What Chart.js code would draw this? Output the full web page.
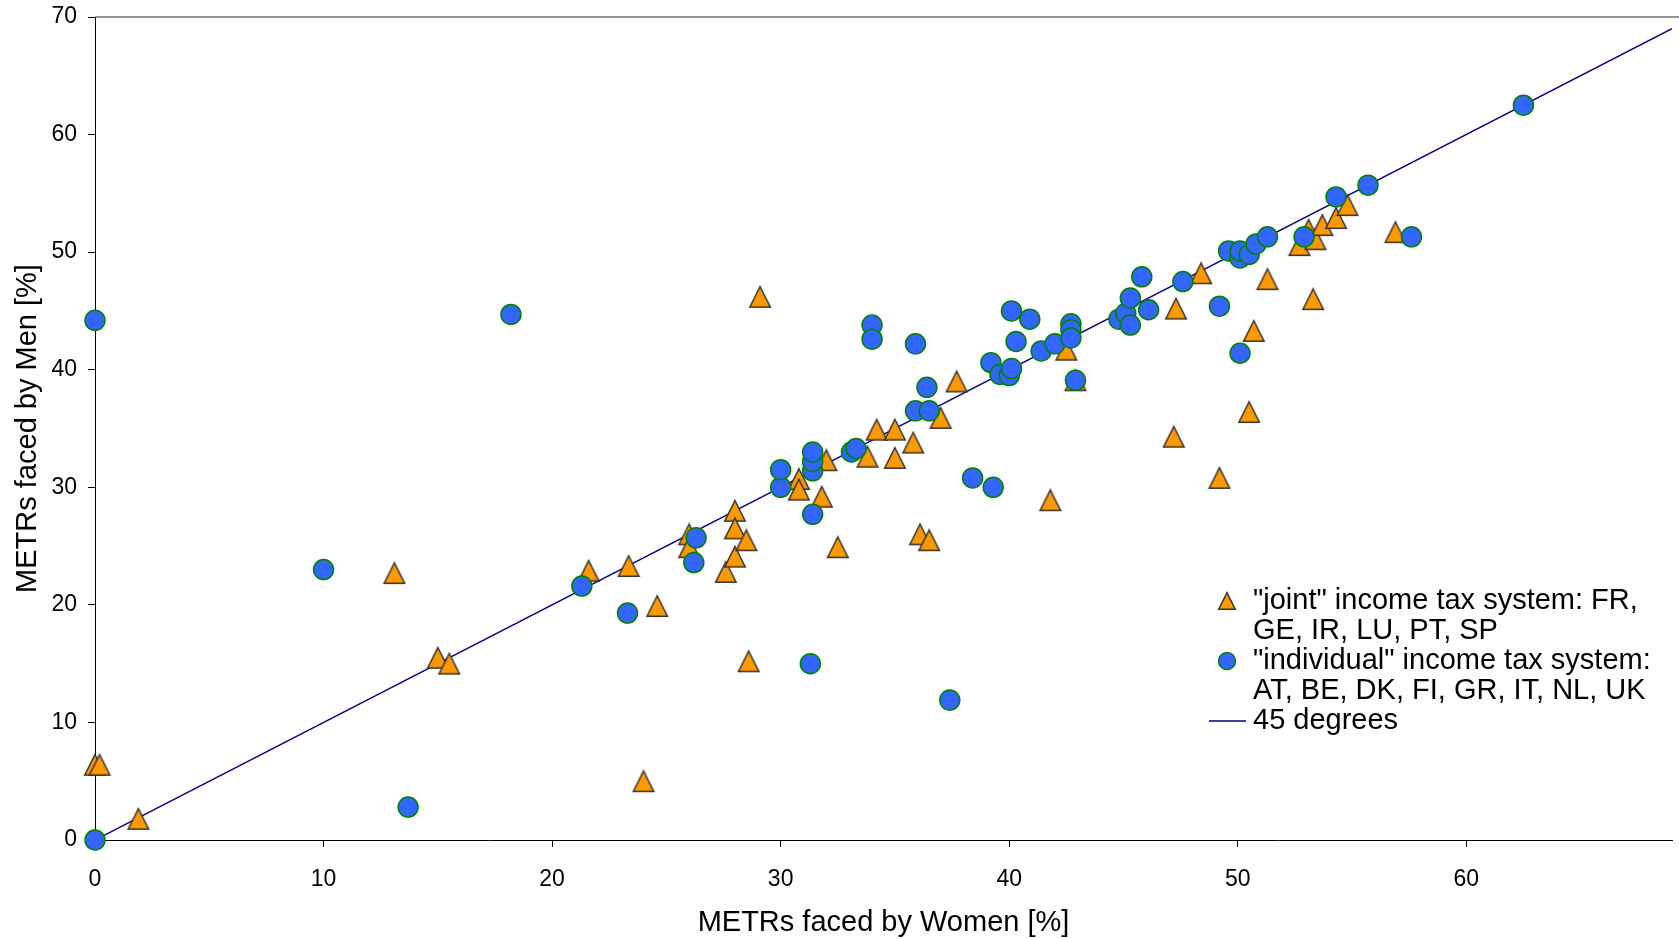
<!DOCTYPE html>
<html>
<head>
<meta charset="utf-8">
<title>METRs faced by women and men</title>
<script src="https://cdn.jsdelivr.net/npm/chart.js@4.4.1/dist/chart.umd.min.js"></script>
<style>
  html, body { margin: 0; padding: 0; background: #fff; }
</style>
</head>
<body>
<canvas id="chart" width="1679" height="939"></canvas>
<script>
// "joint" income tax system countries: METR for women (x) and men (y), %
const jointX = [0.0, 0.2, 1.9, 13.1, 15.0, 15.5, 21.6, 23.35, 24.0, 24.6,
  26.0, 26.0, 27.6, 28.0, 28.0, 28.0, 28.5, 28.6, 29.1, 30.8,
  30.8, 31.8, 32.0, 32.5, 33.8, 34.2, 35.0, 35.0, 35.8, 36.1,
  36.5, 37.0, 37.7, 41.8, 42.5, 42.9, 47.2, 47.3, 48.4, 49.2,
  50.5, 50.7, 51.3, 52.7, 53.1, 53.4, 53.7, 54.3, 54.8, 53.3, 56.9];
const jointY = [6.4, 6.4, 1.8, 22.7, 15.5, 15.0, 22.9, 23.3, 5.0, 19.9,
  26.0, 24.9, 22.8, 28.0, 26.5, 24.1, 25.5, 15.2, 46.2, 30.7,
  29.8, 29.2, 32.3, 24.9, 32.6, 34.9, 34.9, 32.5, 33.8, 26.0,
  25.5, 35.9, 39.0, 28.9, 41.7, 39.1, 34.3, 45.2, 48.2, 30.8,
  36.4, 43.3, 47.7, 50.6, 51.9, 51.1, 52.3, 52.9, 54.0, 46.0, 51.7];

// "individual" income tax system countries
const indivX = [0, 0, 10.0, 13.7, 18.2, 21.3, 23.3, 26.2, 26.3, 30.0,
  30.0, 31.3, 31.4, 31.4, 31.4, 31.4, 33.1, 33.3, 34.0, 34.0,
  35.9, 35.9, 36.4, 36.5, 37.4, 38.4, 39.3, 39.2, 39.6, 40.0,
  40.1, 40.1, 40.3, 40.9, 41.4, 42.0, 42.7, 42.7, 42.7, 42.9,
  44.8, 45.1, 45.3, 45.3, 45.8, 46.1, 47.6, 49.2, 50.1, 49.6,
  50.1, 50.1, 50.5, 50.8, 51.3, 52.9, 54.3, 55.7, 57.6, 62.5];
const indivY = [0, 44.2, 23.0, 2.8, 44.7, 21.6, 19.3, 23.6, 25.7, 30.0,
  31.5, 15.0, 27.7, 31.4, 32.2, 33.0, 33.0, 33.3, 43.8, 42.6,
  42.2, 36.5, 38.5, 36.5, 11.9, 30.8, 30.0, 40.6, 39.6, 39.5,
  40.1, 45.0, 42.4, 44.3, 41.6, 42.2, 43.9, 43.4, 42.7, 39.1,
  44.3, 44.8, 43.8, 46.1, 47.9, 45.1, 47.5, 45.4, 41.4, 50.1,
  49.5, 50.1, 49.8, 50.7, 51.3, 51.3, 54.7, 55.7, 51.3, 62.5];

// 45 degree reference line
const diagX = [0, 69];

const xMax = 69;
const yMax = 70;
const tickStep = 10;

const legendText = [
  ['"joint" income tax system: FR,', 'GE, IR, LU, PT, SP'],
  ['"individual" income tax system:', 'AT, BE, DK, FI, GR, IT, NL, UK'],
  ['45 degrees']
];

const FONT = '"Liberation Sans", Arial, sans-serif';
Chart.defaults.font.family = FONT;
Chart.defaults.color = '#000';

function makeTriangle(size, lw) {
  const c = document.createElement('canvas');
  c.width = size + 2;
  c.height = size + 2;
  const g = c.getContext('2d');
  const p = 1 + lw / 2;
  g.beginPath();
  g.moveTo(c.width / 2, p);
  g.lineTo(c.width - p, c.height - p);
  g.lineTo(p, c.height - p);
  g.closePath();
  g.fillStyle = '#ff9900';
  g.fill();
  g.lineWidth = lw;
  g.strokeStyle = '#333333';
  g.stroke();
  return c;
}

const triPoint = makeTriangle(22, 1.5);
const triLegend = makeTriangle(18, 1.5);

const toPoints = (xs, ys) => xs.map((x, i) => ({ x: x, y: ys[i] }));

// no extra room for half-labels at the ends of the axes
const noEdgePadding = s => {
  s.paddingTop = 0;
  s.paddingBottom = 0;
  s.paddingLeft = 0;
  s.paddingRight = 0;
};

const frame = {
  id: 'frame',
  afterDraw(chart) {
    const { ctx, chartArea } = chart;
    ctx.save();
    ctx.strokeStyle = '#707070';
    ctx.lineWidth = 1.5;
    ctx.beginPath();
    ctx.moveTo(chartArea.left, chartArea.top);
    ctx.lineTo(chart.width, chartArea.top);
    ctx.stroke();

    // legend
    const mx = 1227, tx = 1253, lh = 30;
    let y = 601;
    ctx.font = '29px ' + FONT;
    ctx.fillStyle = '#000';
    ctx.textBaseline = 'middle';
    ctx.textAlign = 'left';
    legendText.forEach((lines, i) => {
      if (i === 0) {
        ctx.drawImage(triLegend, mx - triLegend.width / 2, y - triLegend.height / 2);
      } else if (i === 1) {
        ctx.beginPath();
        ctx.arc(mx, y, 8.5, 0, Math.PI * 2);
        ctx.fillStyle = '#3366ff';
        ctx.fill();
        ctx.lineWidth = 1.5;
        ctx.strokeStyle = '#008000';
        ctx.stroke();
        ctx.fillStyle = '#000';
      } else {
        ctx.beginPath();
        ctx.moveTo(1209, y);
        ctx.lineTo(1246, y);
        ctx.lineWidth = 1.5;
        ctx.strokeStyle = '#000080';
        ctx.stroke();
      }
      lines.forEach(t => {
        ctx.fillText(t, tx, y);
        y += lh;
      });
    });
    ctx.restore();
  }
};

new Chart(document.querySelector('#chart'), {
  type: 'scatter',
  data: {
    datasets: [
      {
        label: legendText[0].join(' '),
        data: toPoints(jointX, jointY),
        pointStyle: triPoint,
        clip: false,
        order: 2
      },
      {
        label: legendText[1].join(' '),
        data: toPoints(indivX, indivY),
        pointStyle: 'circle',
        pointRadius: 10,
        pointBorderWidth: 1.5,
        pointBackgroundColor: '#3366ff',
        pointBorderColor: '#008000',
        clip: false,
        order: 1
      },
      {
        label: legendText[2][0],
        type: 'line',
        data: toPoints(diagX, diagX),
        borderColor: '#000080',
        borderWidth: 1.5,
        pointRadius: 0,
        fill: false,
        order: 3
      }
    ]
  },
  options: {
    responsive: false,
    animation: false,
    devicePixelRatio: 1,
    layout: { autoPadding: false, padding: { top: 17, right: 7, left: 0, bottom: 0 } },
    plugins: {
      legend: { display: false },
      tooltip: { enabled: false }
    },
    scales: {
      x: {
        type: 'linear',
        min: 0,
        max: xMax,
        ticks: {
          stepSize: tickStep,
          includeBounds: false,
          padding: 19,
          font: { size: 23 },
          color: '#000'
        },
        grid: { drawOnChartArea: false, tickLength: 7, tickColor: '#000' },
        border: { color: '#000', width: 1 },
        title: {
          display: true,
          text: 'METRs faced by Women [%]',
          font: { size: 29, lineHeight: 1 },
          color: '#000',
          padding: { top: 0, bottom: 2 }
        },
        afterFit: s => { s.height = 99; noEdgePadding(s); }
      },
      y: {
        type: 'linear',
        min: 0,
        max: yMax,
        ticks: {
          stepSize: tickStep,
          padding: 11,
          font: { size: 23 },
          color: '#000'
        },
        grid: { drawOnChartArea: false, tickLength: 7, tickColor: '#000' },
        border: { color: '#000', width: 1 },
        title: {
          display: true,
          text: 'METRs faced by Men [%]',
          font: { size: 29, lineHeight: 1 },
          color: '#000',
          padding: { top: 13, bottom: 0 }
        },
        afterFit: s => { s.width = 95; noEdgePadding(s); }
      }
    }
  },
  plugins: [frame]
});
</script>
</body>
</html>
